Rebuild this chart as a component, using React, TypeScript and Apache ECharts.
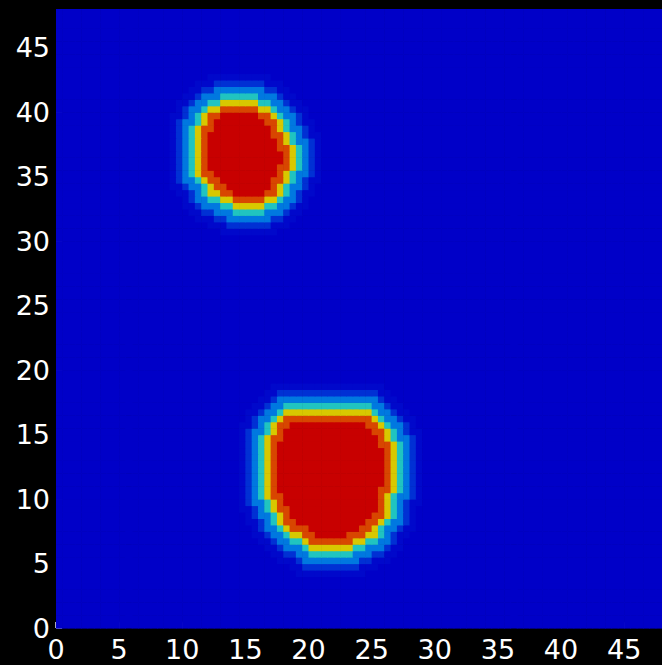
import { useEffect, useRef } from "react";
import * as echarts from "echarts";

// Tick labels shown on both axes
const X_TICK_VALUES = [0, 5, 10, 15, 20, 25, 30, 35, 40, 45];
const Y_TICK_VALUES = [0, 5, 10, 15, 20, 25, 30, 35, 40, 45];
const AXIS_MIN = 0;
const AXIS_MAX = 48;

// The field is sampled on half-unit cells: 96 x 96 cells over 0..48
const CELL = 0.5;
const CELLS_PER_SIDE = 96;

// Colour of each field level (0 = background ... 7 = core)
const LEVEL_COLORS = [
  "#0000c8",
  "#0008cb",
  "#0030d4",
  "#0078e0",
  "#20c4c0",
  "#d8c800",
  "#d84600",
  "#c80000",
];

// Non-zero field levels, per cell row: [row index, first column index, levels]
const UPPER_BLOB_ROWS: [number, number, string][] = [
  [61, 26, "111111111"],
  [62, 24, "1112222222111"],
  [63, 22, "1112233333332211"],
  [64, 21, "112233344444333211"],
  [65, 20, "11233344555554433211"],
  [66, 20, "12334455666665543321"],
  [67, 19, "1123455667777766543211"],
  [68, 18, "11233456677777776543321"],
  [69, 18, "123345667777777766543211"],
  [70, 18, "1234566" + "7777777777" + "6543321"],
  [71, 18, "123456" + "77777777777" + "6654321"],
  [72, 18, "123456" + "777777777777" + "654321"],
  [73, 18, "123456" + "777777777777" + "654321"],
  [74, 18, "123456" + "77777777777" + "6654321"],
  [75, 18, "123456" + "77777777777" + "6543321"],
  [76, 18, "123456" + "7777777777" + "66543211"],
  [77, 18, "1234566" + "777777777" + "6543321"],
  [78, 18, "1233456" + "77777777" + "66543211"],
  [79, 18, "11234566" + "777777" + "66543321"],
  [80, 19, "123345566666655433211"],
  [81, 19, "11233445555554433211"],
  [82, 20, "112333444444333211"],
  [83, 21, "1122333333332211"],
  [84, 22, "11122222222111"],
  [85, 24, "1111111111"],
];

const LOWER_BLOB_ROWS: [number, number, string][] = [
  [8, 38, "11111111111"],
  [9, 37, "11222222222111"],
  [10, 35, "111233333333322111"],
  [11, 34, "11223344444443332211"],
  [12, 33, "1123334555555544333211"],
  [13, 32, "11233445666666655443321"],
  [14, 31, "1123345566777776665543211"],
  [15, 31, "12334566677777777665433211"],
  [16, 30, "11234566" + "77777777777" + "66543321"],
  [17, 30, "1233456" + "7777777777777" + "6654321"],
  [18, 29, "11234566" + "77777777777777" + "654321"],
  [19, 29, "1233456" + "777777777777777" + "6543211"],
  [20, 29, "1234566" + "777777777777777" + "6543321"],
  [21, 29, "123456" + "7777777777777777" + "6654321"],
  [22, 29, "123456" + "77777777777777777" + "654321"],
  [23, 29, "123456" + "77777777777777777" + "654321"],
  [24, 29, "123456" + "77777777777777777" + "654321"],
  [25, 29, "123456" + "77777777777777777" + "654321"],
  [26, 29, "123456" + "77777777777777777" + "654321"],
  [27, 29, "123456" + "77777777777777777" + "654321"],
  [28, 29, "123456" + "7777777777777777" + "6654321"],
  [29, 29, "1234566" + "777777777777777" + "6543321"],
  [30, 29, "1233456" + "77777777777777" + "66543211"],
  [31, 29, "11234566" + "777777777777" + "66543321"],
  [32, 30, "123345" + "66666666666666" + "5433211"],
  [33, 30, "112334" + "55555555555555" + "433211"],
  [34, 31, "11233" + "44444444444444" + "33211"],
  [35, 32, "112" + "3333333333333333" + "211"],
  [36, 33, "11" + "2222222222222222" + "11"],
  [37, 34, "111111111111111111"],
];

function buildCells(): number[][] {
  const levels: number[][] = [];
  for (let r = 0; r < CELLS_PER_SIDE; r++) {
    levels.push(new Array(CELLS_PER_SIDE).fill(0));
  }
  for (const [row, col, run] of [...UPPER_BLOB_ROWS, ...LOWER_BLOB_ROWS]) {
    for (let k = 0; k < run.length; k++) {
      levels[row][col + k] = Number(run[k]);
    }
  }
  const cells: number[][] = [];
  for (let r = 0; r < CELLS_PER_SIDE; r++) {
    for (let c = 0; c < CELLS_PER_SIDE; c++) {
      cells.push([c * CELL, r * CELL, levels[r][c]]);
    }
  }
  return cells;
}

export default function App() {
  const ref = useRef<HTMLDivElement>(null);

  useEffect(() => {
    document.body.style.margin = "0";
    document.body.style.background = "#000";
    const chart = echarts.init(ref.current!, null, { renderer: "svg" });

    const labelStyle = {
      color: "#ffffff",
      fontSize: 27,
      fontFamily: "DejaVu Sans",
    };
    const tickStyle = {
      show: true,
      inside: true,
      length: 6,
      lineStyle: { color: "#e4e4ff", width: 1.5 },
    };

    chart.setOption({
      animation: false,
      backgroundColor: "#000000",
      grid: { left: 56, top: 9, width: 619, height: 619 },
      xAxis: {
        type: "value",
        min: AXIS_MIN,
        max: AXIS_MAX,
        interval: 5,
        axisLine: { show: false },
        splitLine: { show: false },
        axisTick: { ...tickStyle, customValues: X_TICK_VALUES },
        axisLabel: { ...labelStyle, margin: 8, customValues: X_TICK_VALUES },
      },
      yAxis: {
        type: "value",
        min: AXIS_MIN,
        max: AXIS_MAX,
        interval: 5,
        axisLine: { show: false },
        splitLine: { show: false },
        axisTick: { ...tickStyle, customValues: Y_TICK_VALUES },
        axisLabel: { ...labelStyle, margin: 6, customValues: Y_TICK_VALUES },
      },
      visualMap: {
        type: "continuous",
        show: false,
        min: 0,
        max: LEVEL_COLORS.length - 1,
        dimension: 2,
        seriesIndex: 0,
        inRange: { color: LEVEL_COLORS },
      },
      series: [
        {
          type: "custom",
          silent: true,
          clip: true,
          encode: { x: 0, y: 1 },
          data: buildCells(),
          renderItem: (_params: any, api: any) => {
            const x = api.value(0);
            const y = api.value(1);
            const p0 = api.coord([x, y + CELL]);
            const p1 = api.coord([x + CELL, y]);
            return {
              type: "rect",
              shape: {
                x: p0[0],
                y: p0[1],
                width: p1[0] - p0[0] + 0.6,
                height: p1[1] - p0[1] + 0.6,
              },
              style: { fill: api.visual("color") },
            };
          },
        },
      ],
    });

    return () => chart.dispose();
  }, []);

  return (
    <div
      ref={ref}
      style={{ position: "absolute", left: 0, top: 0, width: 662, height: 665 }}
    />
  );
}
